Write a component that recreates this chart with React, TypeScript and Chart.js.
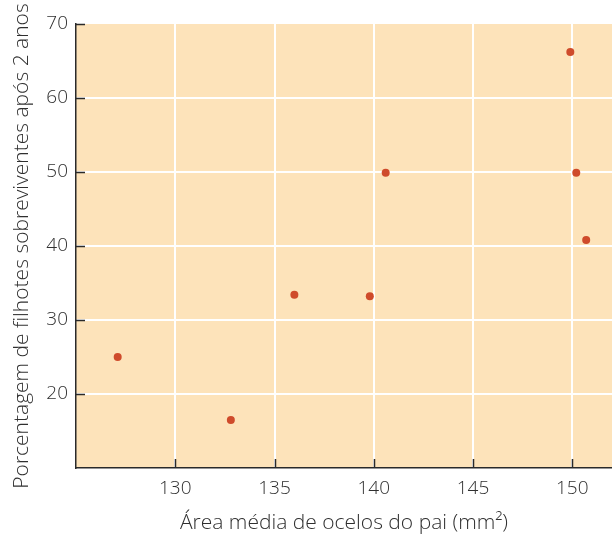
import React, { useEffect, useRef } from "react";
import { Chart, registerables } from "chart.js";

Chart.register(...registerables);

const ocelliArea = [127.1, 132.8, 136.0, 139.8, 140.6, 149.9, 150.2, 150.7];
const survivalPct = [25.0, 16.5, 33.4, 33.2, 49.9, 66.2, 49.9, 40.8];
const xTickValues = [130, 135, 140, 145, 150];
const yTickValues = [20, 30, 40, 50, 60, 70];
const xTitle = "Área média de ocelos do pai (mm²)";
const yTitle = "Porcentagem de filhotes sobreviventes após 2 anos";

const FONT = "'Open Sans', Lato, sans-serif";
const TEXT = "#2f2f2f";
const AXIS = "#2a2a2a";

const bgPlugin = {
  id: "bgFill",
  beforeDraw(chart: any) {
    const { ctx, chartArea } = chart;
    ctx.save();
    ctx.fillStyle = "#FDE3BA";
    ctx.fillRect(chartArea.left, chartArea.top, chartArea.right - chartArea.left, chartArea.bottom - chartArea.top);
    ctx.restore();
  },
};

const inwardTicks = {
  id: "inwardTicks",
  afterDraw(chart: any) {
    const { ctx, chartArea } = chart;
    const xs = chart.scales.x;
    const ys = chart.scales.y;
    ctx.save();
    ctx.strokeStyle = AXIS;
    ctx.lineWidth = 1.5;
    ctx.beginPath();
    xTickValues.forEach((v) => {
      const px = Math.round(xs.getPixelForValue(v)) + 0.5;
      ctx.moveTo(px, chartArea.bottom);
      ctx.lineTo(px, chartArea.bottom - 9);
    });
    yTickValues.forEach((v) => {
      const py = Math.round(ys.getPixelForValue(v)) + 0.5;
      ctx.moveTo(chartArea.left, py);
      ctx.lineTo(chartArea.left + 9, py);
    });
    ctx.stroke();
    ctx.restore();
  },
};

export default function App() {
  const ref = useRef<HTMLCanvasElement | null>(null);
  useEffect(() => {
    if (!ref.current) return;
    const chart = new Chart(ref.current, {
      type: "scatter",
      data: {
        datasets: [
          {
            data: ocelliArea.map((x, i) => ({ x, y: survivalPct[i] })),
            backgroundColor: "#CF4B2B",
            borderColor: "#CF4B2B",
            pointRadius: 4,
            pointBorderWidth: 0,
            clip: false,
          },
        ],
      },
      plugins: [bgPlugin, inwardTicks],
      options: {
        animation: false,
        responsive: false,
        layout: { autoPadding: false, padding: { top: 24, right: 0, bottom: 0, left: 0 } },
        plugins: { legend: { display: false }, tooltip: { enabled: false } },
        scales: {
          x: {
            type: "linear",
            min: 125,
            max: 152,
            afterBuildTicks: (s: any) => {
              s.ticks = xTickValues.map((v) => ({ value: v }));
            },
            afterFit: (s: any) => {
              s.height = 70;
              s.paddingRight = 0;
              s.paddingLeft = 0;
            },
            grid: { color: "#ffffff", lineWidth: 2, drawTicks: false },
            border: { display: true, color: AXIS, width: 1.5 },
            ticks: { padding: 9, color: TEXT, font: { family: FONT, size: 19, weight: 300 } },
            title: {
              display: true,
              text: xTitle,
              color: TEXT,
              font: { family: FONT, size: 21, weight: 300 },
              padding: { top: 0, bottom: 2 },
            },
          },
          y: {
            type: "linear",
            min: 10,
            max: 70,
            afterBuildTicks: (s: any) => {
              s.ticks = yTickValues.map((v) => ({ value: v }));
            },
            afterFit: (s: any) => {
              s.width = 76;
              s.paddingTop = 0;
              s.paddingBottom = 0;
            },
            grid: {
              color: (c: any) => (c.tick && c.tick.value === 70 ? "rgba(0,0,0,0)" : "#ffffff"),
              lineWidth: 2,
              drawTicks: false,
            },
            border: { display: true, color: AXIS, width: 1.5 },
            ticks: { padding: 8, color: TEXT, font: { family: FONT, size: 19, weight: 300 } },
            title: {
              display: true,
              text: yTitle,
              color: TEXT,
              font: { family: FONT, size: 21, weight: 300 },
              padding: { top: 9, bottom: 0 },
            },
          },
        },
      },
    });
    return () => chart.destroy();
  }, []);
  return (
    <div style={{ position: "fixed", left: 0, top: 0, width: 612, height: 538, background: "#fff" }}>
      <canvas ref={ref} width={612} height={538} style={{ width: 612, height: 538 }} />
    </div>
  );
}
